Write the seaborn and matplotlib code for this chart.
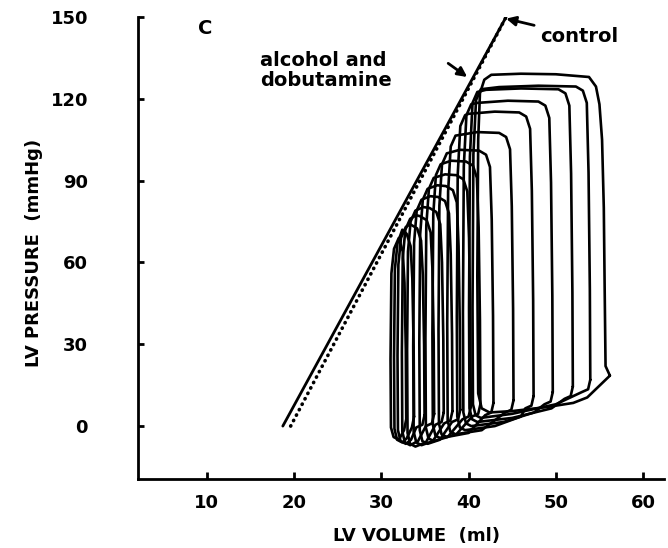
import numpy as np
import pandas as pd
import seaborn as sns
import matplotlib.pyplot as plt

# pressure-volume loops during caval occlusion (volume in ml, pressure in mmHg)
loop_vol = [
    [56.2, 55.7, 55.6, 55.5, 55.3, 55.0, 54.6, 53.8, 50.0, 46.0, 42.6, 41.8, 41.3, 41.1, 41.0, 41.1, 41.5, 42.4, 45.0, 49.0, 52.0, 53.6, 56.2],
    [53.95, 53.9, 53.75, 53.55, 53.1, 52.3, 48.0, 43.5, 41.4, 40.85, 40.55, 40.45, 40.5, 40.8, 41.4, 45.0, 50.0, 53.0, 53.7, 53.95],
    [51.95, 51.9, 51.75, 51.55, 51.1, 50.3, 46.0, 42.0, 41.0, 40.45, 40.15, 40.05, 40.1, 40.4, 41.0, 45.0, 49.5, 51.0, 51.7, 51.95],
    [49.65, 49.6, 49.45, 49.25, 48.8, 48.0, 44.5, 41.0, 40.3, 39.75, 39.45, 39.35, 39.4, 39.7, 40.3, 44.0, 47.5, 48.7, 49.4, 49.65],
    [47.45, 47.4, 47.25, 47.05, 46.6, 45.8, 43.0, 40.0, 39.6, 39.05, 38.75, 38.65, 38.7, 39.0, 39.6, 43.0, 46.0, 46.5, 47.2, 47.45],
    [45.15, 45.1, 44.95, 44.75, 44.3, 43.5, 41.0, 38.5, 37.95, 37.65, 37.55, 37.6, 37.9, 38.5, 41.5, 44.2, 44.9, 45.15],
    [42.85, 42.8, 42.65, 42.45, 42.0, 41.2, 39.0, 37.5, 36.95, 36.65, 36.55, 36.6, 36.9, 37.5, 40.0, 41.9, 42.6, 42.85],
    [41.35, 41.3, 41.15, 40.95, 40.5, 39.7, 38.0, 36.8, 36.25, 35.95, 35.85, 35.9, 36.2, 36.8, 38.6, 40.4, 41.1, 41.35],
    [40.25, 40.2, 40.05, 39.85, 39.4, 38.6, 37.3, 36.0, 35.45, 35.15, 35.05, 35.1, 35.4, 36.0, 37.6, 39.3, 40.0, 40.25],
    [39.05, 39.0, 38.85, 38.65, 38.2, 37.4, 36.4, 35.3, 34.75, 34.45, 34.35, 34.4, 34.7, 35.3, 36.7, 38.1, 38.8, 39.05],
    [38.15, 38.1, 37.95, 37.75, 37.3, 36.5, 35.6, 34.6, 34.05, 33.75, 33.65, 33.7, 34.0, 34.6, 35.9, 37.2, 37.9, 38.15],
    [37.15, 37.1, 36.95, 36.75, 36.3, 35.5, 34.8, 33.9, 33.35, 33.05, 32.95, 33.0, 33.3, 33.9, 35.1, 36.2, 36.9, 37.15],
    [36.05, 36.0, 35.85, 35.65, 35.2, 34.4, 34.0, 33.3, 32.75, 32.45, 32.35, 32.4, 32.7, 33.3, 34.2, 35.1, 35.8, 36.05],
    [34.95, 34.9, 34.75, 34.55, 34.1, 33.3, 32.8, 32.25, 31.95, 31.85, 31.9, 32.2, 32.8, 33.4, 34.0, 34.7, 34.95],
    [33.75, 33.7, 33.55, 33.35, 32.9, 32.4, 31.85, 31.55, 31.45, 31.5, 31.8, 32.4, 32.9, 33.5, 33.75],
    [32.85, 32.8, 32.65, 32.45, 32.0, 31.45, 31.15, 31.05, 31.1, 31.4, 32.0, 32.6, 32.85],
]
loop_press = [
    [18.5, 22, 50, 80, 105, 118, 124.5, 128, 129, 129.2, 128.8, 127, 122, 105, 55, 12, 6.5, 5, 5.5, 7, 8.5, 10.5, 18.5],
    [17, 50, 93, 118.5, 123, 124.5, 124.8, 124.3, 123.5, 119.5, 99.6, 43.6, 8, 4, 3, 4.5, 8, 12.5, 13.5, 17],
    [14.5, 49, 92.6, 117.5, 122, 123.5, 123.8, 123.3, 122.5, 118.5, 98.8, 43.2, 6.5, 2.5, 1.5, 3, 6.5, 10, 11, 14.5],
    [12.5, 47.6, 89.3, 113, 117.5, 119, 119.3, 118.5, 118, 114, 95.2, 41.7, 5, 1, 0, 1.5, 5, 8, 9, 12.5],
    [11, 46, 86.3, 109, 113.5, 115, 115.3, 114.5, 114, 110, 92, 40.3, 3.5, -0.5, -1.5, 0, 3.5, 6.5, 7.5, 11],
    [9.5, 43, 80.6, 101.5, 106, 107.5, 107.8, 106.5, 102.5, 86, 37.6, 2, -2, -3, -1.5, 5, 6, 9.5],
    [8.5, 40.4, 75.8, 95, 99.5, 101, 101.3, 100, 96, 80.8, 35.4, 1, -3, -4, -2.5, 4, 5, 8.5],
    [8, 38.8, 72.8, 91, 95.5, 97, 97.3, 96, 92, 77.6, 34, 0.5, -3.5, -4.5, -3, 3.5, 4.5, 8],
    [7, 36.8, 69, 86, 90.5, 92, 92.3, 91, 87, 73.6, 32.2, -0.5, -4.5, -5.5, -4, 2.5, 3.5, 7],
    [6, 35.2, 66, 82, 86.5, 88, 88.3, 87, 83, 70.4, 30.8, -1.5, -5.5, -6.5, -5, 1.5, 2.5, 6],
    [5.5, 33.6, 63, 78, 82.5, 84, 84.3, 83, 79, 67.2, 29.4, -2, -6, -7, -5.5, 1, 2, 5.5],
    [5, 32, 60, 74, 78.5, 80, 80.3, 79, 75, 64, 28, -2.5, -6.5, -7.5, -6, 0.5, 1.5, 5],
    [4.5, 30.8, 57.8, 71, 75.5, 77, 77.3, 76, 72, 61.6, 27, -2, -6, -7, -5.5, 0, 1, 4.5],
    [4, 29.6, 55.5, 68, 72.5, 74, 73, 69, 59.2, 25.9, -1.5, -5.5, -6.5, -5, -0.5, 0.5, 4],
    [3.5, 28.8, 54, 66, 70.5, 72, 67, 57.6, 25.2, -1, -5, -6, -4.5, -0.5, 3.5],
    [2.5, 28, 52.5, 64, 69, 65, 56, 24.5, -0.5, -4, -5, -1.5, 2.5],
]

# end-systolic pressure-volume relations
espvr_alc_vol = [18.7, 44.3]
espvr_alc_press = [0, 150]
espvr_ctl_vol = [19.6, 44.3]
espvr_ctl_press = [0, 150]

x_ticks = [10, 20, 30, 40, 50, 60]
y_ticks = [0, 30, 60, 90, 120, 150]

rows = []
for i, (vv, pp) in enumerate(zip(loop_vol, loop_press)):
    for k, (v, p) in enumerate(zip(vv, pp)):
        rows.append({"loop": i, "order": k, "vol": v, "press": p})
loops = pd.DataFrame(rows)

sns.set_style("ticks")
plt.rcParams["font.family"] = ["DejaVu Sans"]
plt.rcParams["font.weight"] = "bold"
for key in ["text.color", "axes.labelcolor", "xtick.color", "ytick.color"]:
    plt.rcParams[key] = "black"

fig = plt.figure(figsize=(6.68, 5.48), dpi=100)
ax = fig.add_axes([0.2066, 0.1259, 0.7874, 0.8431])

sns.lineplot(data=loops, x="vol", y="press", units="loop", estimator=None,
             sort=False, color="black", linewidth=1.9, ax=ax, legend=False)
for line in ax.lines:
    line.set_solid_joinstyle("round")
    line.set_solid_capstyle("round")

sns.lineplot(x=espvr_alc_vol, y=espvr_alc_press, color="black", linewidth=2.0,
             sort=False, ax=ax)
ax.plot(espvr_ctl_vol, espvr_ctl_press, color="black", linewidth=2.6,
        linestyle=(0, (0.1, 1.6)), dash_capstyle="round")

ax.set_xlim(2.1, 62.4)
ax.set_ylim(-19.4, 150)
ax.set_xticks(x_ticks)
ax.set_yticks(y_ticks)
ax.tick_params(axis="x", direction="in", length=5, width=2, pad=11, labelsize=13)
ax.tick_params(axis="y", direction="in", length=4, width=2, pad=36, labelsize=13)
for lab in ax.get_xticklabels() + ax.get_yticklabels():
    lab.set_fontweight("bold")

for side in ["top", "right"]:
    ax.spines[side].set_visible(False)
for side in ["left", "bottom"]:
    ax.spines[side].set_linewidth(2)
    ax.spines[side].set_color("black")

ax.set_xlabel("LV VOLUME  (ml)", fontsize=13, fontweight="bold")
ax.set_ylabel("LV PRESSURE  (mmHg)", fontsize=13, fontweight="bold")
ax.xaxis.set_label_coords(0.529, -0.104)
ax.yaxis.set_label_coords(-0.18, 0.49)

ax.text(9.8, 145.6, "C", fontsize=14, fontweight="bold", ha="center", va="center")
ax.text(16.1, 130.4, "alcohol and\ndobutamine", fontsize=14, fontweight="bold",
        ha="left", va="center", linespacing=1.05)
ax.annotate("", xy=(40.1, 127.4), xytext=(37.4, 133.6),
            arrowprops=dict(arrowstyle="-|>", color="black", lw=2, mutation_scale=14))
ax.annotate("control", xy=(44.3, 149.4), xytext=(48.2, 143.0), fontsize=14,
            fontweight="bold", ha="left", va="center",
            arrowprops=dict(arrowstyle="-|>", color="black", lw=2, mutation_scale=14,
                            shrinkA=2, shrinkB=0))

fig.savefig("out.png", dpi=100)
